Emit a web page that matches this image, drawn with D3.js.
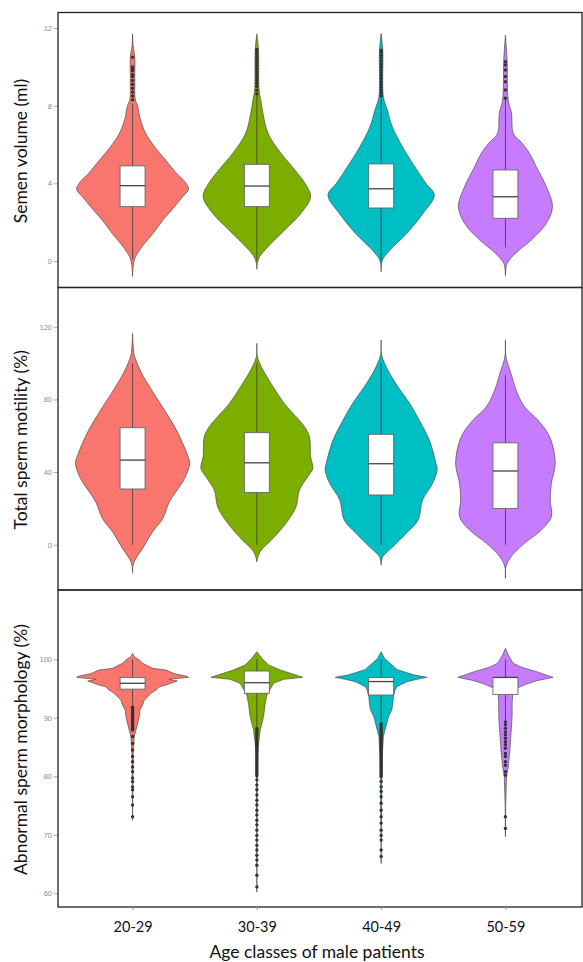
<!DOCTYPE html>
<html>
<head>
<meta charset="utf-8">
<script src="https://cdn.jsdelivr.net/npm/d3@7"></script>
<style>
  html, body { margin: 0; padding: 0; background: #fff; }
  svg { display: block; }
</style>
</head>
<body>
<div id="chart"></div>
<script>
const ageClasses = ["20-29", "30-39", "40-49", "50-59"];

// density profiles: [value, relative half width]
const volumeDensity = [
  [[11.7,0],[11.1,0.01],[10.5,0.04],[9.4,0.04],[8.3,0.05],[8.0,0.09],[7.3,0.14],[6.6,0.23],[5.9,0.39],[5.2,0.59],[4.5,0.79],[4.1,0.93],[3.7,1.0],[3.3,0.89],[2.8,0.75],[2.1,0.54],[1.4,0.36],[0.7,0.16],[0.2,0.05],[-0.1,0.02],[-0.3,0.01],[-0.8,0]],
  [[11.7,0],[10.86,0.03],[8.8,0.04],[8.29,0.07],[7.6,0.11],[6.58,0.2],[5.55,0.43],[4.69,0.68],[4.0,0.86],[3.31,0.96],[2.46,0.79],[1.6,0.5],[0.74,0.2],[0.22,0.05],[-0.12,0.01],[-0.43,0]],
  [[11.72,0],[10.86,0.03],[8.46,0.04],[7.78,0.11],[6.92,0.2],[5.89,0.38],[4.69,0.64],[4.0,0.8],[3.4,0.95],[2.46,0.75],[1.43,0.46],[0.57,0.16],[0.14,0.04],[-0.1,0.01],[-0.55,0]],
  [[11.64,0],[10.35,0.03],[8.29,0.05],[7.6,0.11],[6.58,0.14],[6.06,0.3],[5.55,0.43],[4.86,0.55],[3.83,0.73],[2.8,0.84],[1.94,0.73],[1.08,0.46],[0.4,0.18],[-0.12,0.03],[-0.38,0.01],[-0.77,0]]
];
// [q1, median, q3, whisker low, whisker high]
const volumeBox = [[2.8,3.88,4.9,0.1,8.1],[2.8,3.86,4.98,0,8.5],[2.73,3.72,5.0,0,8.4],[2.2,3.31,4.69,0.7,8.3]];
const volumeOutliers = [
  [8.3,8.5,8.7,8.9,9.1,9.3,9.5,9.6,9.8,9.9,10.0,10.5],
  [8.6,8.8,9.0,9.15,9.3,9.45,9.6,9.75,9.9,10.05,10.2,10.35,10.5,10.65,10.8,10.9],
  [8.5,8.65,8.8,8.95,9.1,9.25,9.4,9.55,9.7,9.85,10.0,10.15,10.3,10.45,10.6,10.75,10.86],
  [8.38,8.81,9.23,9.5,9.84,10.1,10.26]
];
const volumeTicks = [0, 4, 8, 12];

const motilityDensity = [
  [[116.4,0],[109.9,0.01],[104.4,0.03],[95.2,0.15],[84.2,0.36],[73.2,0.59],[62.2,0.8],[49.4,0.98],[44.8,1.02],[36.5,0.93],[23.7,0.66],[14.5,0.54],[7.2,0.36],[-2.0,0.18],[-7.5,0.06],[-11.2,0.01],[-15.7,0]],
  [[110.9,0],[103.5,0.01],[96.2,0.11],[87.0,0.29],[77.8,0.49],[70.5,0.7],[65.0,0.85],[59.4,0.94],[48.4,0.96],[42.1,1.0],[37.4,0.91],[30.1,0.76],[20.9,0.7],[11.8,0.52],[2.6,0.26],[-2.9,0.08],[-6.6,0.02],[-9.4,0]],
  [[112.7,0],[104.4,0.01],[96.2,0.12],[87.0,0.3],[77.8,0.51],[68.6,0.68],[57.6,0.86],[44.8,0.98],[41.1,1.0],[33.8,0.92],[24.6,0.74],[13.6,0.66],[6.3,0.45],[-1.1,0.21],[-6.6,0.03],[-11.2,0]],
  [[112.7,0],[103.5,0.01],[94.3,0.1],[85.2,0.19],[76.0,0.34],[68.6,0.58],[59.4,0.79],[44.8,0.89],[33.8,0.82],[24.6,0.8],[15.4,0.82],[8.1,0.64],[0.8,0.34],[-6.6,0.1],[-12.1,0.01],[-18.5,0]]
];
const motilityBox = [[30.7,46.6,64.4,0,100],[28.8,45.1,61.7,0,100],[27.4,44.6,60.8,0,100],[20.0,40.6,56.1,0,93.4]];
const motilityOutliers = [[], [], [], []];
const motilityTicks = [0, 40, 80, 120];

const morphologyDensity = [
  [[101.0,0],[100.45,0.03],[99.88,0.12],[99.32,0.18],[98.46,0.36],[98.17,0.6],[97.71,0.71],[97.49,0.77],[97.15,0.95],[96.92,1.0],[96.75,0.83],[96.58,0.65],[96.29,0.8],[96.0,0.71],[95.6,0.6],[95.32,0.48],[94.75,0.42],[94.19,0.33],[93.61,0.27],[93.04,0.21],[92.19,0.18],[91.33,0.13],[90.19,0.12],[89.05,0.09],[87.5,0.05],[86.8,0.03],[83.4,0.01],[72.5,0]],
  [[101.3,0],[100.17,0.09],[99.03,0.21],[98.17,0.42],[97.61,0.6],[96.92,0.82],[96.58,0.48],[95.9,0.3],[94.75,0.23],[93.9,0.18],[92.48,0.15],[90.19,0.12],[87.91,0.06],[85.64,0.03],[83.4,0.01],[77.7,0.005],[60.2,0]],
  [[101.3,0],[100.17,0.06],[99.32,0.16],[98.28,0.28],[97.71,0.46],[97.3,0.6],[96.92,0.82],[96.58,0.64],[96.17,0.46],[95.32,0.28],[94.75,0.25],[93.61,0.22],[92.48,0.21],[91.33,0.19],[90.19,0.13],[89.05,0.1],[87.91,0.07],[86.77,0.04],[83.4,0.02],[77.7,0.01],[65.1,0]],
  [[101.88,0],[100.73,0.05],[99.32,0.14],[98.63,0.29],[97.88,0.56],[96.92,0.85],[96.34,0.56],[95.78,0.38],[95.04,0.2],[94.19,0.13],[92.48,0.12],[90.19,0.12],[87.35,0.1],[84.5,0.08],[81.65,0.05],[79.94,0.02],[75,0.005],[69.7,0]]
];
const morphologyBox = [[94.9,95.9,96.9,92,100],[94.2,96.0,98.0,88.5,100],[93.9,96.2,96.9,89.4,100],[94.0,96.9,96.9,89.6,100]];
const morphologyOutliers = [
  [91.8,91.5,91.2,90.9,90.6,90.3,90.0,89.7,89.4,89.1,88.8,88.5,88.2,87.9,86.8,85.6,84.5,83.4,82.5,81.6,80.8,79.7,79.1,78.2,77.7,76.5,75.1,73.1],
  [88.2,87.9,87.6,87.3,87.0,86.7,86.4,86.1,85.8,85.5,85.2,84.9,84.6,84.3,84.0,83.7,83.4,83.1,82.8,82.5,82.2,81.9,81.6,81.3,81.0,80.7,80.4,80.1,79.4,78.5,77.7,76.8,75.9,75.1,74.2,73.4,72.5,71.7,70.8,69.9,69.1,68.2,67.4,66.5,65.7,64.8,63.1,61.1],
  [89.0,88.7,88.4,88.1,87.8,87.5,87.2,86.9,86.6,86.3,86.0,85.7,85.4,85.1,84.8,84.5,84.2,83.9,83.6,83.3,83.0,82.7,82.4,82.1,81.8,81.5,81.2,80.9,80.6,80.3,80.0,79.1,78.2,77.4,76.5,75.4,74.2,73.1,72.0,70.8,69.9,69.1,67.4,66.3],
  [89.3,88.8,88.2,87.6,87.1,86.5,85.9,85.4,84.8,83.9,83.4,82.5,81.9,80.8,80.2,73.1,71.1]
];
const morphologyTicks = [60, 70, 80, 90, 100];

const yTitles = ["Semen volume (ml)", "Total sperm motility (%)", "Abnormal sperm morphology (%)"];
const xTitle = "Age classes of male patients";

const colors = ["#F8766D", "#7CAE00", "#00BFC4", "#C77CFF"];

const width = 583, height = 962;
const plotLeft = 58, plotRight = 582;

const panels = [
  { top: 12.5, bottom: 287.5, domain: [-1.365, 12.8], density: volumeDensity, box: volumeBox, outliers: volumeOutliers, ticks: volumeTicks, smooth: true },
  { top: 287.5, bottom: 590, domain: [-24.9, 141.6], density: motilityDensity, box: motilityBox, outliers: motilityOutliers, ticks: motilityTicks, smooth: true },
  { top: 590, bottom: 907, domain: [57.66, 111.85], density: morphologyDensity, box: morphologyBox, outliers: morphologyOutliers, ticks: morphologyTicks, smooth: false }
];

const svg = d3.select("#chart").append("svg")
  .attr("width", width)
  .attr("height", height);

const x = d3.scalePoint()
  .domain(ageClasses)
  .range([plotLeft, plotRight - 2])
  .padding(0.6);

const halfWidth = d3.scaleLinear().domain([0, 1]).range([0, 56]);
const boxHalf = 12.5;

panels.forEach((p, pi) => {
  const y = d3.scaleLinear().domain(p.domain).range([p.bottom, p.top]);
  const g = svg.append("g");

  // y axis
  const yAxis = g.append("g")
    .attr("transform", `translate(${plotLeft},0)`)
    .call(d3.axisLeft(y).tickValues(p.ticks).tickSize(4.5).tickPadding(1.5));
  yAxis.select(".domain").remove();
  yAxis.selectAll(".tick line").attr("stroke", "#999").attr("stroke-width", 0.8);
  yAxis.selectAll(".tick text")
    .attr("fill", "#8c8c8c")
    .style("font-family", "'Liberation Sans', Arial, sans-serif")
    .style("font-size", "7.5px");

  ageClasses.forEach((age, i) => {
    const cx = x(age);
    const area = d3.area()
      .curve(p.smooth ? d3.curveCatmullRom.alpha(0.5) : d3.curveLinear)
      .y(d => y(d[0]))
      .x0(d => cx - halfWidth(d[1]))
      .x1(d => cx + halfWidth(d[1]));

    g.append("path")
      .datum(p.density[i])
      .attr("d", area)
      .attr("fill", colors[i])
      .attr("stroke", "#3a3a3a")
      .attr("stroke-width", 0.6);

    const [q1, med, q3, lo, hi] = p.box[i];
    g.append("line")
      .attr("x1", cx).attr("x2", cx)
      .attr("y1", y(lo)).attr("y2", y(hi))
      .attr("stroke", "#444")
      .attr("stroke-width", 0.9);

    g.append("rect")
      .attr("x", cx - boxHalf)
      .attr("width", boxHalf * 2)
      .attr("y", y(q3))
      .attr("height", y(q1) - y(q3))
      .attr("fill", "#fff")
      .attr("stroke", "#666")
      .attr("stroke-width", 0.9);

    g.append("line")
      .attr("x1", cx - boxHalf).attr("x2", cx + boxHalf)
      .attr("y1", y(med)).attr("y2", y(med))
      .attr("stroke", "#444")
      .attr("stroke-width", 1.3);

    g.selectAll(null)
      .data(p.outliers[i])
      .join("circle")
      .attr("cx", cx)
      .attr("cy", d => y(d))
      .attr("r", 1.7)
      .attr("fill", "#333");
  });

  // y title
  g.append("text")
    .attr("transform", `translate(27,${(p.top + p.bottom) / 2 + 1}) rotate(-90)`)
    .attr("text-anchor", "middle")
    .style("font-family", "Lato, 'Open Sans', sans-serif")
    .style("font-size", "17.5px")
    .attr("fill", "#111")
    .text(yTitles[pi]);

  // frame
  g.append("rect")
    .attr("x", plotLeft)
    .attr("y", p.top)
    .attr("width", plotRight - plotLeft)
    .attr("height", p.bottom - p.top)
    .attr("fill", "none")
    .attr("stroke", "#222")
    .attr("stroke-width", 1.3);

  if (pi === panels.length - 1) {
    const xAxis = g.append("g")
      .attr("transform", `translate(0,${p.bottom})`)
      .call(d3.axisBottom(x).tickSize(3).tickPadding(12));
    xAxis.select(".domain").remove();
    xAxis.selectAll(".tick line").attr("stroke", "#999");
    xAxis.selectAll(".tick text")
      .attr("fill", "#111")
      .style("font-family", "Lato, 'Open Sans', sans-serif")
      .style("font-size", "14.5px");
  }
});

svg.append("text")
  .attr("x", 317)
  .attr("y", 958)
  .attr("text-anchor", "middle")
  .style("font-family", "Lato, 'Open Sans', sans-serif")
  .style("font-size", "17.5px")
  .attr("fill", "#111")
  .text(xTitle);
</script>
</body>
</html>
